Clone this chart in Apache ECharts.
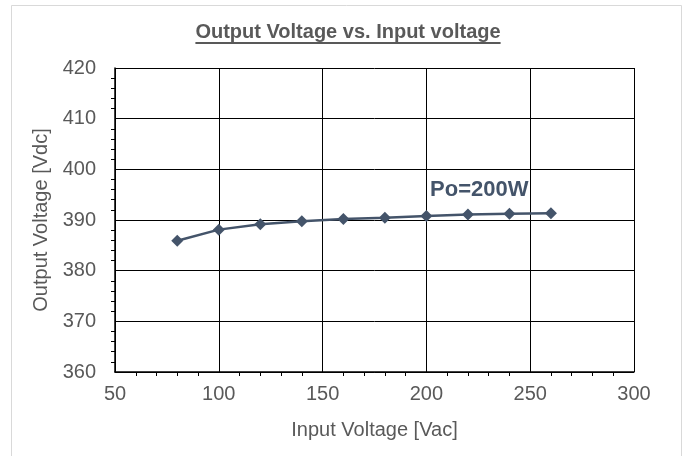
<!DOCTYPE html>
<html>
<head>
<meta charset="utf-8">
<script src="https://cdn.jsdelivr.net/npm/echarts@6/dist/echarts.min.js"></script>
<style>
html,body{margin:0;padding:0;background:#fff;}
#c{width:686px;height:456px;}
</style>
</head>
<body>
<div id="c"></div>
<script>
const inputVoltage = [80, 100, 120, 140, 160, 180, 200, 220, 240, 260];
const outputVoltage = [385.9, 388.1, 389.15, 389.75, 390.2, 390.45, 390.8, 391.1, 391.25, 391.35];
const titleText = 'Output Voltage vs. Input voltage';
const seriesLabel = 'Po=200W';
const xName = 'Input Voltage [Vac]';
const yName = 'Output Voltage [Vdc]';

const chart = echarts.init(document.getElementById('c'), null, {renderer: 'canvas'});
const fontFam = '"Liberation Sans", Arial, sans-serif';
const txt = '#595959';
const titleSize = 20;

// measure title width for the underline
const mc = document.createElement('canvas').getContext('2d');
mc.font = 'bold ' + titleSize + 'px ' + fontFam;
const tW = mc.measureText(titleText).width;
const tX = (686 - tW) / 2 + 5;

chart.setOption({
  animation: false,
  backgroundColor: '#fff',
  title: {
    text: titleText,
    left: tX,
    top: 22,
    padding: 0,
    textStyle: {fontFamily: fontFam, fontSize: titleSize, fontWeight: 'bold', color: txt}
  },
  grid: {left: 115, right: 52, top: 68, bottom: 84},
  xAxis: {
    type: 'value', min: 50, max: 300, interval: 50,
    name: xName, nameLocation: 'middle', nameGap: 48,
    nameTextStyle: {fontFamily: fontFam, fontSize: 20, color: txt},
    axisLine: {show: true, lineStyle: {color: '#000', width: 1.5}},
    axisTick: {show: false},
    minorTick: {show: true, splitNumber: 5, length: 4, lineStyle: {color: '#000'}},
    axisLabel: {fontFamily: fontFam, fontSize: 20, color: txt, margin: 12},
    splitLine: {show: true, lineStyle: {color: '#000', width: 1}}
  },
  yAxis: {
    type: 'value', min: 360, max: 420, interval: 10,
    name: yName, nameLocation: 'middle', nameGap: 50,
    nameTextStyle: {fontFamily: fontFam, fontSize: 20, color: txt},
    axisLine: {show: true, lineStyle: {color: '#000', width: 1.5}},
    axisTick: {show: false},
    minorTick: {show: true, splitNumber: 5, length: 4, lineStyle: {color: '#000'}},
    axisLabel: {fontFamily: fontFam, fontSize: 20, color: txt, margin: 19},
    splitLine: {show: true, lineStyle: {color: '#000', width: 1}}
  },
  series: [{
    type: 'line',
    data: inputVoltage.map((x, i) => [x, outputVoltage[i]]),
    symbol: 'diamond',
    symbolSize: 12,
    lineStyle: {color: '#44546A', width: 2.5},
    itemStyle: {color: '#44546A'},
    markPoint: {
      symbol: 'circle', symbolSize: 0,
      data: [{coord: [225.5, 395.9], value: seriesLabel}],
      label: {show: true, position: 'inside', formatter: seriesLabel,
        fontFamily: fontFam, fontSize: 22, fontWeight: 'bold', color: '#44546A'}
    }
  }],
  graphic: [
    {type: 'rect', shape: {x: 11.5, y: 5.5, width: 670, height: 460}, style: {fill: 'none', stroke: '#d9d9d9', lineWidth: 1}, silent: true},
    {type: 'rect', shape: {x: tX, y: 42, width: tW, height: 2}, style: {fill: txt}, silent: true}
  ]
});
</script>
</body>
</html>
